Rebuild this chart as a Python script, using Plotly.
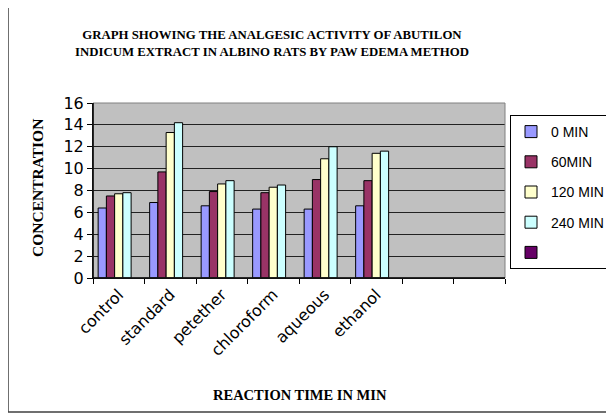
import plotly.graph_objects as go

categories = ["control", "standard", "petether", "chloroform", "aqueous", "ethanol", " ", "  "]
series_names = ["0 MIN", "60MIN", "120 MIN", "240 MIN", ""]
min0 = [6.4, 6.9, 6.6, 6.3, 6.3, 6.6, None, None]
min60 = [7.5, 9.7, 7.9, 7.8, 9.0, 8.9, None, None]
min120 = [7.7, 13.3, 8.6, 8.3, 10.9, 11.4, None, None]
min240 = [7.8, 14.2, 8.9, 8.5, 12.0, 11.6, None, None]
extra = [None] * 8
colors = ["#9999FF", "#993366", "#FFFFCC", "#CCFFFF", "#660066"]
y_ticks = [0, 2, 4, 6, 8, 10, 12, 14, 16]

# page body has an 8px margin; figure is sized/positioned to compensate
OFF = 8
W, H = 614 - OFF, 415 - OFF
PL, PR, PT, PB = 93 - OFF, 505 - OFF, 103 - OFF, 278 - OFF  # plot area in fig px
PW, PH = PR - PL, PB - PT


def px(x):
    return (x - OFF - PL) / PW


def py(y):
    return (PB - (y - OFF)) / PH


fig = go.Figure()
for i, (name, vals) in enumerate(zip(series_names, [min0, min60, min120, min240, extra])):
    fig.add_trace(go.Bar(
        x=categories, y=vals, name=name if name else " ",
        marker=dict(color=colors[i], line=dict(color="black", width=1)),
        legendgroup="g%d" % i,
    ))

tick_font = dict(family="DejaVu Sans", size=16, color="black")
legend_font = dict(family="Liberation Sans, Arial", size=14, color="black")
fig.update_layout(
    width=W, height=H,
    margin=dict(l=PL, r=W - PR, t=PT, b=H - PB, autoexpand=False),
    paper_bgcolor="white", plot_bgcolor="#C0C0C0",
    barmode="group", bargap=0.2, bargroupgap=0,
    font=tick_font,
    showlegend=True,
    legend=dict(
        x=px(510), y=py(115), xanchor="left", yanchor="top",
        bordercolor="black", borderwidth=1, bgcolor="white",
        font=legend_font, tracegroupgap=9, traceorder="grouped",
        itemwidth=30,
    ),
)

fig.update_xaxes(
    type="category", categoryorder="array", categoryarray=categories,
    range=[-0.5, 7.5], tickson="boundaries", ticks="outside", ticklen=5,
    tickcolor="black", showline=True, linecolor="black", linewidth=1,
    tickangle=-45, tickfont=tick_font, showgrid=False, mirror=False,
    automargin=False,
)
fig.update_yaxes(
    range=[0, 16], tickvals=y_ticks, ticks="outside", ticklen=5,
    tickcolor="black", showline=True, linecolor="black", linewidth=1,
    showgrid=True, gridcolor="#222222", gridwidth=1, zeroline=False,
    tickfont=tick_font, automargin=False,
)

# plot area border (gray) with black axis lines
fig.add_shape(type="rect", xref="paper", yref="paper", x0=0, y0=0, x1=1, y1=1,
              line=dict(color="#808080", width=1), layer="above")
fig.add_shape(type="line", xref="paper", yref="paper", x0=0, y0=0, x1=1, y1=0,
              line=dict(color="black", width=1.5), layer="above")
fig.add_shape(type="line", xref="paper", yref="paper", x0=0, y0=0, x1=0, y1=1,
              line=dict(color="black", width=1.5), layer="above")
# outer chart frame
fig.add_shape(type="rect", xref="paper", yref="paper",
              x0=px(8), y0=py(412), x1=px(700), y1=py(-20),
              line=dict(color="#404040", width=1.5), layer="below")

serif = "Liberation Serif, Times New Roman"
fig.add_annotation(
    text="<b>GRAPH SHOWING THE ANALGESIC ACTIVITY OF ABUTILON<br>INDICUM EXTRACT IN ALBINO RATS BY PAW EDEMA METHOD</b>",
    xref="paper", yref="paper", x=px(272), y=py(44),
    xanchor="center", yanchor="middle", showarrow=False,
    font=dict(family=serif, size=12.8, color="black"),
)
fig.add_annotation(
    text="<b>CONCENTRATION</b>", textangle=-90,
    xref="paper", yref="paper", x=px(37), y=py(188),
    xanchor="center", yanchor="middle", showarrow=False,
    font=dict(family=serif, size=15.5, color="black"),
)
fig.add_annotation(
    text="<b>REACTION TIME IN MIN</b>",
    xref="paper", yref="paper", x=px(300), y=py(395),
    xanchor="center", yanchor="middle", showarrow=False,
    font=dict(family=serif, size=14.5, color="black"),
)

fig.write_html("out.html")
